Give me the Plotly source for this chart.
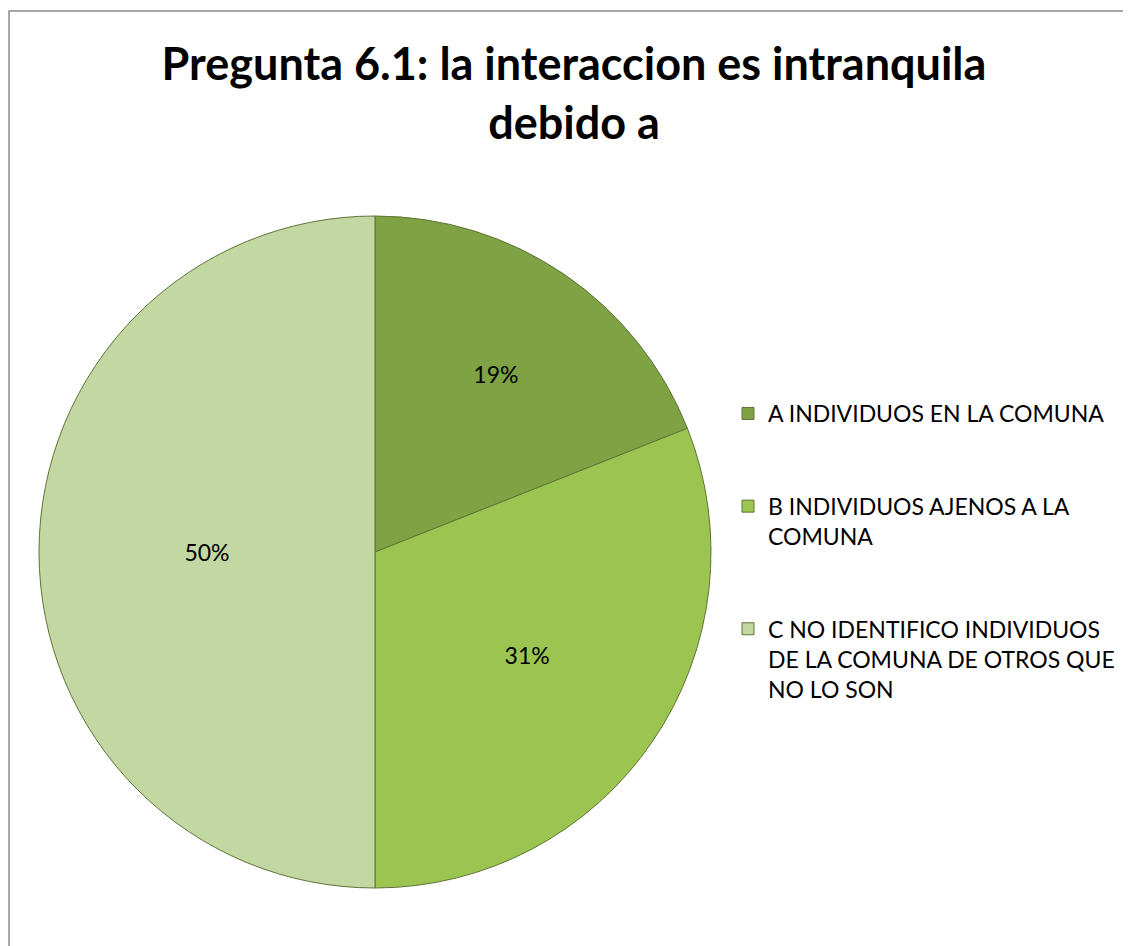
import plotly.graph_objects as go

# pie data
labels = [
    "A INDIVIDUOS EN LA COMUNA",
    "B INDIVIDUOS AJENOS A LA<br>COMUNA",
    "C NO IDENTIFICO INDIVIDUOS<br>DE LA COMUNA DE OTROS QUE<br>NO LO SON",
]
values = [19, 31, 50]
colors = ["#7FA244", "#9CC451", "#C2D7A2"]

FONT = "Lato, Calibri, Carlito, sans-serif"
W, H = 1131, 946
OFF = 8  # page body margin in the browser


def px_x(x):
    return (x - OFF) / W


def px_y(y):
    return 1 - (y - OFF) / H


# extra blank lines in the legend to space the entries like the original
legend_names = [lab + "<br> <br> " for lab in labels]

fig = go.Figure(go.Pie(
    labels=legend_names,
    values=values,
    sort=False,
    direction="clockwise",
    rotation=0,
    textinfo="percent",
    texttemplate="%{percent:.0%}",
    textposition="inside",
    insidetextorientation="horizontal",
    textfont=dict(family=FONT, size=23, color="black"),
    marker=dict(colors=colors, line=dict(color="#5E7436", width=1)),
    domain=dict(x=[px_x(39), px_x(711)], y=[px_y(888), px_y(216)]),
    hovertemplate="%{percent}<extra></extra>",
))

# chart area border (runs off the right and bottom of the image)
fig.add_shape(type="rect", xref="paper", yref="paper",
              x0=px_x(9), y0=-0.05, x1=1.05, y1=px_y(11),
              line=dict(color="#8C8C8C", width=1.5), layer="below")

fig.update_layout(
    width=W,
    height=H,
    title=dict(
        text="<b>Pregunta 6.1: la interaccion es intranquila<br>debido a</b>",
        x=px_x(574), xanchor="center",
        y=1 - 72 / H, yanchor="top",
        font=dict(family=FONT, size=45, color="black"),
    ),
    legend=dict(
        x=px_x(728), xanchor="left",
        y=px_y(392), yanchor="top",
        font=dict(family=FONT, size=23, color="black"),
        valign="top",
        tracegroupgap=0,
    ),
    margin=dict(l=0, r=0, t=0, b=0),
    paper_bgcolor="white",
    plot_bgcolor="white",
)

fig.write_html("out.html")
